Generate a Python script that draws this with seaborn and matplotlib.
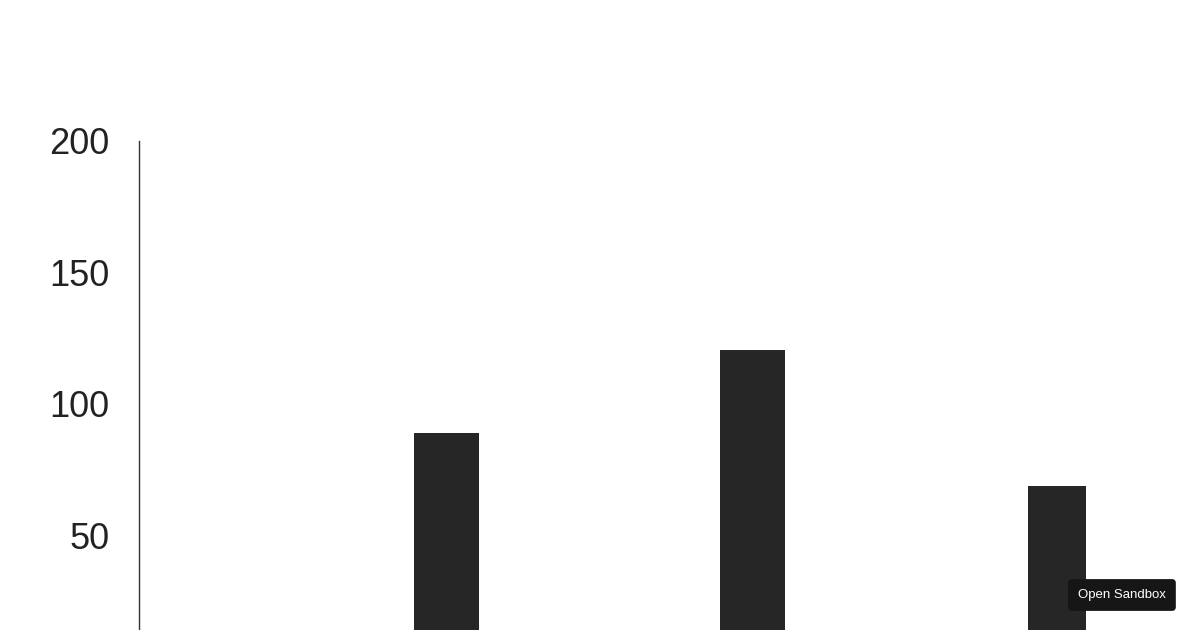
import matplotlib
matplotlib.use("Agg")
import matplotlib.pyplot as plt
import seaborn as sns
import pandas as pd

categories = ["B", "C", "D"]
values = [89, 120.5, 68.5]
y_ticks = [50, 100, 150, 200]

df = pd.DataFrame({"cat": categories, "val": values})

sns.set_theme(style="white")
plt.rcParams["font.family"] = ["Liberation Sans", "DejaVu Sans"]

fig = plt.figure(figsize=(12, 6.3), dpi=100)
ax = fig.add_axes([139 / 1200, 0, 1 - 139 / 1200, (630 - 141) / 630])

sns.barplot(data=df, x="cat", y="val", ax=ax, color="#262626",
            saturation=1, width=0.213, edgecolor="none")
ax.patches[2].set_width(58 / 306)
ax.patches[2].set_x(2 - 0.5 * 58 / 306 - 1 / 306)

ax.set_xlim(-1 - 1.5 / 306, 2 + (1200 - 1058) / 306)
ax.set_ylim(200 - 489 / 2.627, 200)
ax.set_yticks(y_ticks)
ax.set_yticklabels([str(t) for t in y_ticks])
ax.set_xticks([])
ax.set_xlabel("")
ax.set_ylabel("")
ax.tick_params(axis="y", length=0, pad=21.5, labelsize=26, labelcolor="#222222")
for s in ["top", "right", "bottom"]:
    ax.spines[s].set_visible(False)
ax.spines["left"].set_color("#333333")
ax.spines["left"].set_linewidth(1.0)

fig.text(1122 / 1200, 1 - 595 / 630, "Open Sandbox", ha="center", va="center",
         fontsize=9.5, color="white",
         bbox=dict(boxstyle="round,pad=0.75,rounding_size=0.3",
                   fc="#161616", ec="none"))

fig.savefig("out.png", dpi=100)
